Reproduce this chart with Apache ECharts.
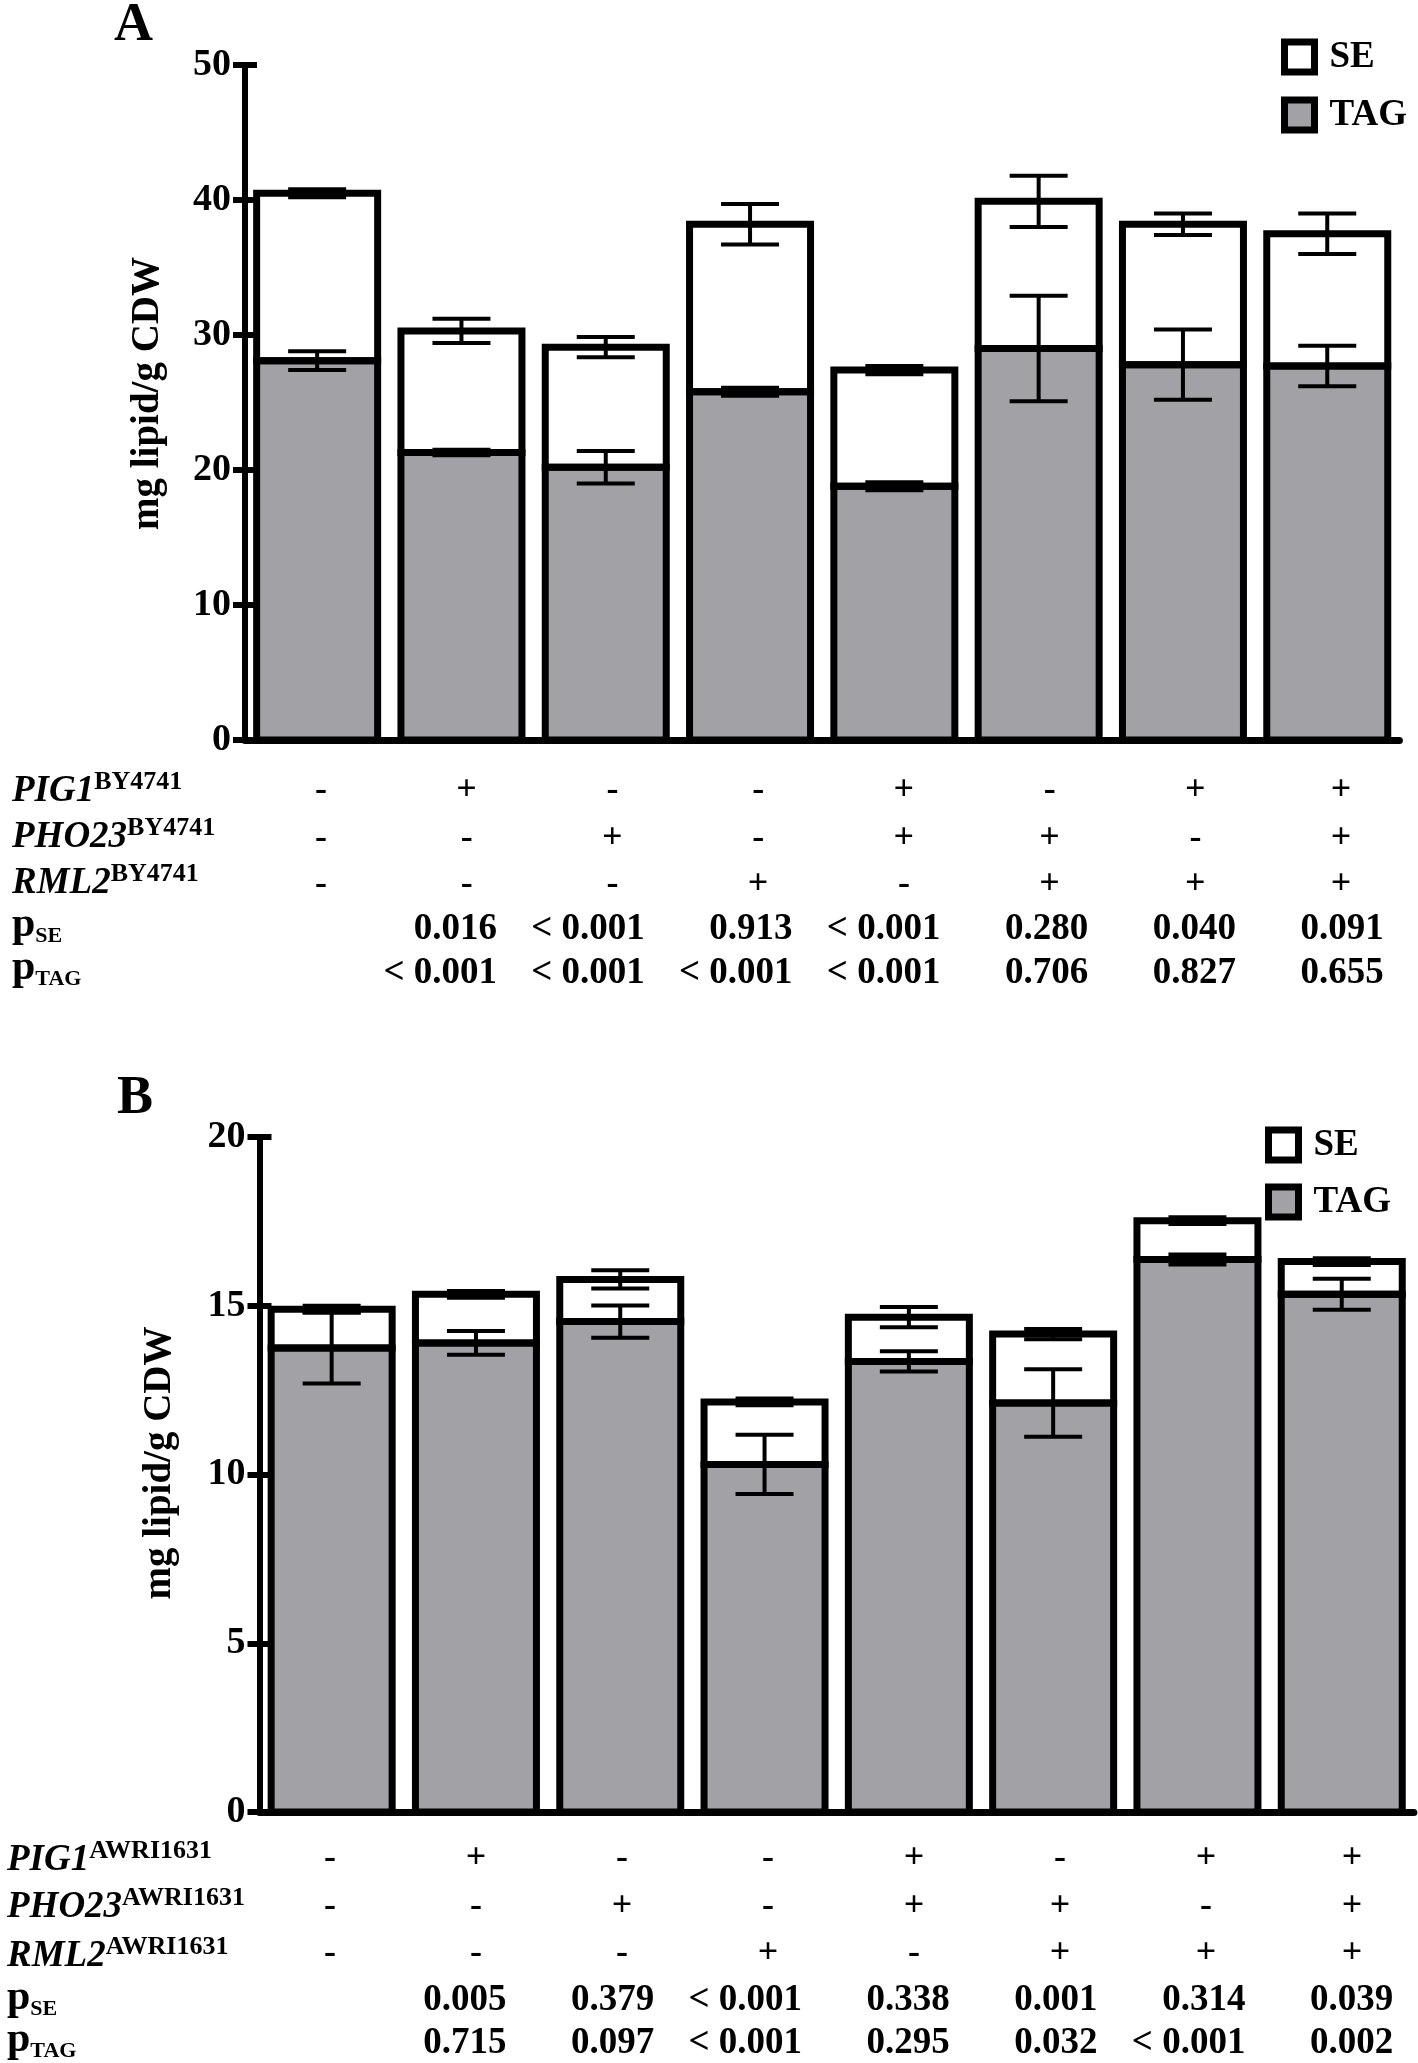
<!DOCTYPE html>
<html><head><meta charset="utf-8">
<script src="https://cdn.jsdelivr.net/npm/echarts@6/dist/echarts.min.js"></script>
<style>html,body{margin:0;padding:0;background:#fff}#c{width:1418px;height:2063px}</style>
</head><body><div id="c"></div>
<script>
const columns = ['1','2','3','4','5','6','7','8'];
// Panel A (BY4741)
const aTAG = [28.1, 21.3, 20.2, 25.8, 18.8, 29.0, 27.8, 27.7];
const aSE = [12.4, 9.0, 8.9, 12.4, 8.6, 10.9, 10.4, 9.8];
const aTAGerr = [0.7, 0.2, 1.2, 0.3, 0.3, 3.9, 2.6, 1.5];
const aTotalErr = [0.3, 0.9, 0.75, 1.5, 0.3, 1.9, 0.8, 1.5];
const aPIG1 = ['-','+','-','-','+','-','+','+'];
const aPHO23 = ['-','-','+','-','+','+','-','+'];
const aRML2 = ['-','-','-','+','-','+','+','+'];
const aPSE = ['', '0.016','< 0.001','0.913','< 0.001','0.280','0.040','0.091'];
const aPTAG = ['', '< 0.001','< 0.001','< 0.001','< 0.001','0.706','0.827','0.655'];
const aTicks = [0,10,20,30,40,50];
// Panel B (AWRI1631)
const bTAG = [13.75, 13.9, 14.53, 10.3, 13.35, 12.12, 16.37, 15.34];
const bSE = [1.15, 1.44, 1.25, 1.85, 1.31, 2.04, 1.15, 0.97];
const bTAGerr = [1.05, 0.35, 0.48, 0.88, 0.3, 1.0, 0.15, 0.46];
const bTotalErr = [0.1, 0.1, 0.27, 0.1, 0.3, 0.15, 0.1, 0.1];
const bPIG1 = ['-','+','-','-','+','-','+','+'];
const bPHO23 = ['-','-','+','-','+','+','-','+'];
const bRML2 = ['-','-','-','+','-','+','+','+'];
const bPSE = ['', '0.005','0.379','< 0.001','0.338','0.001','0.314','0.039'];
const bPTAG = ['', '0.715','0.097','< 0.001','0.295','0.032','< 0.001','0.002'];
const bTicks = [0,5,10,15,20];

const FONT = "'Liberation Serif', 'Times New Roman', serif";
const GRAY = '#a2a1a6';
const BAR_W = 121;
const chart = echarts.init(document.getElementById('c'), null, {renderer:'canvas'});

function valueAxes(grid, ticks, nameGap, namePad) {
  const common = {type:'value', gridIndex:grid, position:'left', min:ticks[0], max:ticks[ticks.length-1],
    interval:ticks[1]-ticks[0], splitLine:{show:false}};
  return [
    Object.assign({}, common, {
      axisLine:{show:true, lineStyle:{color:'#000', width:6}},
      axisTick:{show:true, length:12, lineStyle:{color:'#000', width:6}},
      axisLabel:{color:'#000', fontSize:38, fontWeight:'bold', fontFamily:FONT, margin:14},
      name:'mg lipid/g CDW', nameLocation:'middle', nameGap:nameGap,
      nameTextStyle:{color:'#000', fontSize:39, fontWeight:'bold', fontFamily:FONT, padding:[0,0,0,namePad]}
    }),
    Object.assign({}, common, {
      axisLine:{show:false}, axisLabel:{show:false},
      axisTick:{show:true, inside:true, length:12, lineStyle:{color:'#000', width:6}}
    })
  ];
}
function mainXAxis(grid) {
  return {type:'category', gridIndex:grid, position:'bottom', data:columns,
    axisLine:{show:true, onZero:false, lineStyle:{color:'#000', width:7}},
    axisTick:{show:false}, axisLabel:{show:false}, splitLine:{show:false}};
}
function tableAxis(grid, offset, row, isP) {
  const lab = {show:true, interval:0, margin:0, verticalAlign:'middle', color:'#000',
    fontFamily:FONT, fontWeight:'bold', fontSize:isP ? 37 : 36};
  if (isP) {
    lab.formatter = (v, i) => row[i] ? '{r|' + row[i] + '}' : '';
    lab.rich = {r:{width:80, align:'right', fontSize:37, fontWeight:'bold', fontFamily:FONT, color:'#000'}};
  } else {
    lab.formatter = (v, i) => row[i];
  }
  return {type:'category', gridIndex:grid, position:'bottom', offset:offset, data:columns,
    axisLine:{show:false, onZero:false}, axisTick:{show:false}, splitLine:{show:false}, axisLabel:lab};
}
function barSeries(name, xi, yi, stack, data, color) {
  return {type:'bar', name:name, xAxisIndex:xi, yAxisIndex:yi, stack:stack, data:data, barWidth:BAR_W,
    itemStyle:{color:color, borderWidth:0}, emphasis:{disabled:true}, silent:true, z:2};
}
function outlineSeries(xi, yi, tag, se) {
  return {type:'custom', xAxisIndex:xi, yAxisIndex:yi, z:3, silent:true,
    data: tag.map((t, i) => [i, t, t + se[i]]),
    encode:{x:0, y:[1, 2]},
    renderItem(params, api) {
      const i = api.value(0);
      const base = api.coord([i, 0]);
      const t = api.coord([i, api.value(1)]);
      const s = api.coord([i, api.value(2)]);
      const x = base[0] - BAR_W / 2;
      const st = {stroke:'#000', lineWidth:7, fill:null, lineJoin:'miter'};
      return {type:'group', children:[
        {type:'rect', shape:{x:x, y:t[1], width:BAR_W, height:base[1] - t[1]}, style:st},
        {type:'rect', shape:{x:x, y:s[1], width:BAR_W, height:t[1] - s[1]}, style:st}
      ]};
    }};
}
function errSeries(xi, yi, means, errs) {
  return {type:'custom', xAxisIndex:xi, yAxisIndex:yi, z:5, silent:true,
    data: means.map((m, i) => [i, m, errs[i]]),
    encode:{x:0, y:1},
    renderItem(params, api) {
      const i = api.value(0), m = api.value(1), e = api.value(2);
      const top = api.coord([i, m + e]), bot = api.coord([i, m - e]);
      const cx = top[0], hw = 29;
      const st = {stroke:'#000', lineWidth:4, fill:null};
      return {type:'group', children:[
        {type:'line', shape:{x1:cx, y1:top[1], x2:cx, y2:bot[1]}, style:st},
        {type:'line', shape:{x1:cx-hw, y1:top[1], x2:cx+hw, y2:top[1]}, style:st},
        {type:'line', shape:{x1:cx-hw, y1:bot[1], x2:cx+hw, y2:bot[1]}, style:st}
      ]};
    }};
}
function legend(left, top, gap, pad) {
  return {show:true, orient:'vertical', left:left, top:top, padding:0, itemWidth:30, itemHeight:30, itemGap:gap,
    icon:'rect', data:['SE','TAG'], selectedMode:false,
    itemStyle:{borderColor:'#000', borderWidth:7},
    textStyle:{color:'#000', fontSize:37, fontWeight:'bold', fontFamily:FONT, lineHeight:30, padding:[0,0,0,pad]}};
}
function rowLabel(x, y, main, sup, italic) {
  return {type:'text', x:x, y:y, silent:true, style:{
    text: '{m|' + main + '}{s|' + sup + '}', align:'left', verticalAlign:'middle',
    rich:{
      m:{fontFamily:FONT, fontWeight:'bold', fontStyle: italic ? 'italic' : 'normal', fontSize: italic ? 37 : 42, lineHeight:44, fill:'#000', color:'#000'},
      s:{fontFamily:FONT, fontWeight:'bold', fontSize: italic ? 26 : 22, lineHeight: italic ? 26 : 22,
         verticalAlign: italic ? 'top' : 'bottom', fill:'#000', color:'#000'}
    }}};
}

const aTot = aTAG.map((v, i) => v + aSE[i]);
const bTot = bTAG.map((v, i) => v + bSE[i]);

const aRows = [51, 99, 145, 189, 233];
const bRows = [47, 95, 142, 188, 231];

const option = {
  backgroundColor:'#fff',
  animation:false,
  grid:[
    {left:245, top:65, width:1154.4, height:675, outerBoundsMode:'none'},
    {left:259.5, top:1137, width:1154.4, height:675, outerBoundsMode:'none'},
    {left:248, top:739, width:1166, height:1, outerBoundsMode:'none'},
    {left:257, top:1811, width:1168, height:1, outerBoundsMode:'none'},
    {left:235.3, top:739, width:1182.4, height:1, outerBoundsMode:'none'},
    {left:244.7, top:1811, width:1182.4, height:1, outerBoundsMode:'none'}
  ],
  xAxis:[
    mainXAxis(0), mainXAxis(1),
    tableAxis(2, aRows[0], aPIG1, false), tableAxis(2, aRows[1], aPHO23, false), tableAxis(2, aRows[2], aRML2, false),
    tableAxis(4, aRows[3], aPSE, true), tableAxis(4, aRows[4], aPTAG, true),
    tableAxis(3, bRows[0], bPIG1, false), tableAxis(3, bRows[1], bPHO23, false), tableAxis(3, bRows[2], bRML2, false),
    tableAxis(5, bRows[3], bPSE, true), tableAxis(5, bRows[4], bPTAG, true)
  ],
  yAxis: [].concat(valueAxes(0, aTicks, 78, 18), valueAxes(1, bTicks, 80, 23),
    [{type:'value', gridIndex:2, show:false, min:0, max:1}, {type:'value', gridIndex:3, show:false, min:0, max:1},
     {type:'value', gridIndex:4, show:false, min:0, max:1}, {type:'value', gridIndex:5, show:false, min:0, max:1}]),
  legend:[legend(1281, 38.5, 21, 10), legend(1265, 1126.5, 20, 10)],
  series:[
    barSeries('TAG', 0, 0, 'A', aTAG, GRAY),
    barSeries('SE', 0, 0, 'A', aSE, '#fff'),
    outlineSeries(0, 0, aTAG, aSE),
    errSeries(0, 0, aTAG, aTAGerr),
    errSeries(0, 0, aTot, aTotalErr),
    barSeries('TAG', 1, 2, 'B', bTAG, GRAY),
    barSeries('SE', 1, 2, 'B', bSE, '#fff'),
    outlineSeries(1, 2, bTAG, bSE),
    errSeries(1, 2, bTAG, bTAGerr),
    errSeries(1, 2, bTot, bTotalErr)
  ],
  graphic:[
    {type:'text', x:114, y:26, silent:true, style:{text:'A', fontFamily:FONT, fontWeight:'bold', fontSize:54, fill:'#000', verticalAlign:'middle'}},
    {type:'text', x:117, y:1099, silent:true, style:{text:'B', fontFamily:FONT, fontWeight:'bold', fontSize:54, fill:'#000', verticalAlign:'middle'}},
    rowLabel(12, 791, 'PIG1', 'BY4741', true),
    rowLabel(12, 837, 'PHO23', 'BY4741', true),
    rowLabel(12, 883, 'RML2', 'BY4741', true),
    rowLabel(12, 925, 'p', 'SE', false),
    rowLabel(12, 968, 'p', 'TAG', false),
    rowLabel(7, 1860, 'PIG1', 'AWRI1631', true),
    rowLabel(7, 1907, 'PHO23', 'AWRI1631', true),
    rowLabel(7, 1956, 'RML2', 'AWRI1631', true),
    rowLabel(7, 1998, 'p', 'SE', false),
    rowLabel(7, 2040, 'p', 'TAG', false)
  ]
};
chart.setOption(option);
</script>
</body></html>
